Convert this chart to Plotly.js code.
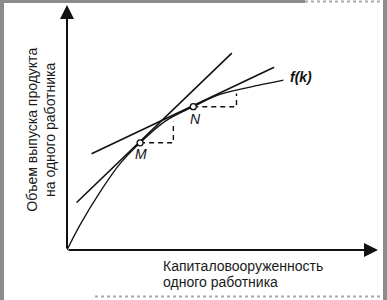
<!DOCTYPE html>
<html>
<head>
<meta charset="utf-8">
<script src="https://cdn.plot.ly/plotly-3.0.1.min.js"></script>
<style>html,body{margin:0;padding:0;background:#fff;}#chart{width:387px;height:300px;}</style>
</head>
<body>
<div id="chart"></div>
<script>
// production function f(k)
const curveK = [0, 0.42, 1.06, 1.70, 2.35, 3.15, 4.06, 4.92, 6.21, 6.96];
const curveF = [0, 0.82, 1.89, 2.81, 3.50, 4.20, 4.68, 5.08, 5.39, 5.55];
// tangent at M (steep) and tangent at N (flat)
const tanMK = [0.31, 5.30];
const tanMF = [1.55, 6.43];
const tanNK = [0.79, 6.66];
const tanNF = [3.14, 5.97];
// points M and N
const ptK = [2.35, 4.06];
const ptF = [3.50, 4.68];
const ptLabels = ["M", "N"];
// increments (dashed)
const dMK = [2.35, 3.42, 3.42];
const dMF = [3.50, 3.50, 4.19];
const dNK = [4.06, 5.45, 5.45];
const dNF = [4.68, 4.68, 5.11];
const curveLabel = "f(k)";
const yTitle = ["Объем выпуска продукта", "на одного работника"];
const xTitle = ["Капиталовооруженность", "одного работника"];
const xMax = 10, yMax = 8;

const ink = '#111';
const traces = [
  {x: curveK, y: curveF, mode: 'lines', line: {color: ink, width: 1.3, shape: 'spline', smoothing: 1}},
  {x: tanMK, y: tanMF, mode: 'lines', line: {color: ink, width: 1.6}},
  {x: tanNK, y: tanNF, mode: 'lines', line: {color: ink, width: 1.6}},
  {x: dMK, y: dMF, mode: 'lines', line: {color: ink, width: 1.4, dash: '5px,4px'}},
  {x: dNK, y: dNF, mode: 'lines', line: {color: ink, width: 1.4, dash: '5px,4px'}},
  {x: ptK, y: ptF, mode: 'markers', marker: {size: 6, color: '#fff', line: {color: ink, width: 1.3}}}
];

const px2x = p => (p - 67) / 311, px2y = p => (250 - p) / 245;
const font = {family: 'Liberation Sans, Arial, sans-serif', size: 14, color: '#1a1a1a'};
const ann = [
  // axes arrows
  {x: xMax, y: 0, ax: 0, ay: 0, xref: 'x', yref: 'y', axref: 'x', ayref: 'y', showarrow: true,
   arrowhead: 2, arrowsize: 1.4, arrowwidth: 2, arrowcolor: ink, text: ''},
  {x: 0, y: yMax, ax: 0, ay: 0, xref: 'x', yref: 'y', axref: 'x', ayref: 'y', showarrow: true,
   arrowhead: 2, arrowsize: 1.4, arrowwidth: 2, arrowcolor: ink, text: ''},
  // point labels
  {x: ptK[0], y: ptF[0], text: ptLabels[0], showarrow: false, xref: 'x', yref: 'y',
   xshift: 1, yshift: -11, font: {family: font.family, size: 14, color: ink, style: 'italic'}},
  {x: ptK[1], y: ptF[1], text: ptLabels[1], showarrow: false, xref: 'x', yref: 'y',
   xshift: 2, yshift: -12, font: {family: font.family, size: 14, color: ink, style: 'italic'}},
  {x: curveK[curveK.length - 1], y: curveF[curveF.length - 1], text: curveLabel, showarrow: false,
   xref: 'x', yref: 'y', xanchor: 'left', xshift: 5, yshift: 3,
   font: {family: font.family, size: 14, color: ink, style: 'italic', weight: 'bold'}},
  // y title
  {x: px2x(31.7), y: px2y(130), xref: 'paper', yref: 'paper', text: yTitle[0], textangle: -90, showarrow: false,
   xanchor: 'center', yanchor: 'middle', font: font},
  {x: px2x(50), y: px2y(130), xref: 'paper', yref: 'paper', text: yTitle[1], textangle: -90, showarrow: false,
   xanchor: 'center', yanchor: 'middle', font: font},
  // x title
  {x: px2x(161), y: px2y(265.5), xref: 'paper', yref: 'paper', text: xTitle[0], showarrow: false,
   xanchor: 'left', yanchor: 'middle', font: font},
  {x: px2x(161), y: px2y(282), xref: 'paper', yref: 'paper', text: xTitle[1], showarrow: false,
   xanchor: 'left', yanchor: 'middle', font: font}
];

// scan frame (paper coords)
const frame = [
  {type: 'rect', xref: 'paper', yref: 'paper', x0: px2x(0), x1: px2x(4), y0: px2y(300), y1: px2y(0),
   fillcolor: '#8c8c8c', line: {width: 0}},
  {type: 'rect', xref: 'paper', yref: 'paper', x0: px2x(383), x1: px2x(387), y0: px2y(300), y1: px2y(0),
   fillcolor: '#8c8c8c', line: {width: 0}},
  {type: 'rect', xref: 'paper', yref: 'paper', x0: px2x(0), x1: px2x(305), y0: px2y(3), y1: px2y(0),
   fillcolor: '#8c8c8c', line: {width: 0}},
  {type: 'line', xref: 'paper', yref: 'paper', x0: px2x(305), x1: px2x(383), y0: px2y(1.5), y1: px2y(1.5),
   line: {color: '#aaa', width: 2, dash: 'dot'}},
  {type: 'line', xref: 'paper', yref: 'paper', x0: px2x(95), x1: px2x(383), y0: px2y(296.5), y1: px2y(296.5),
   line: {color: '#aaa', width: 2, dash: 'dot'}}
];

const layout = {
  width: 387, height: 300,
  margin: {l: 67, r: 9, t: 5, b: 50},
  paper_bgcolor: '#fff', plot_bgcolor: '#fff',
  showlegend: false,
  xaxis: {range: [0, xMax], visible: false, fixedrange: true},
  yaxis: {range: [0, yMax], visible: false, fixedrange: true},
  annotations: ann,
  shapes: frame
};
Plotly.newPlot('chart', traces.map(t => Object.assign({type: 'scatter', hoverinfo: 'skip', cliponaxis: false}, t)), layout, {staticPlot: true});
</script>
</body>
</html>
